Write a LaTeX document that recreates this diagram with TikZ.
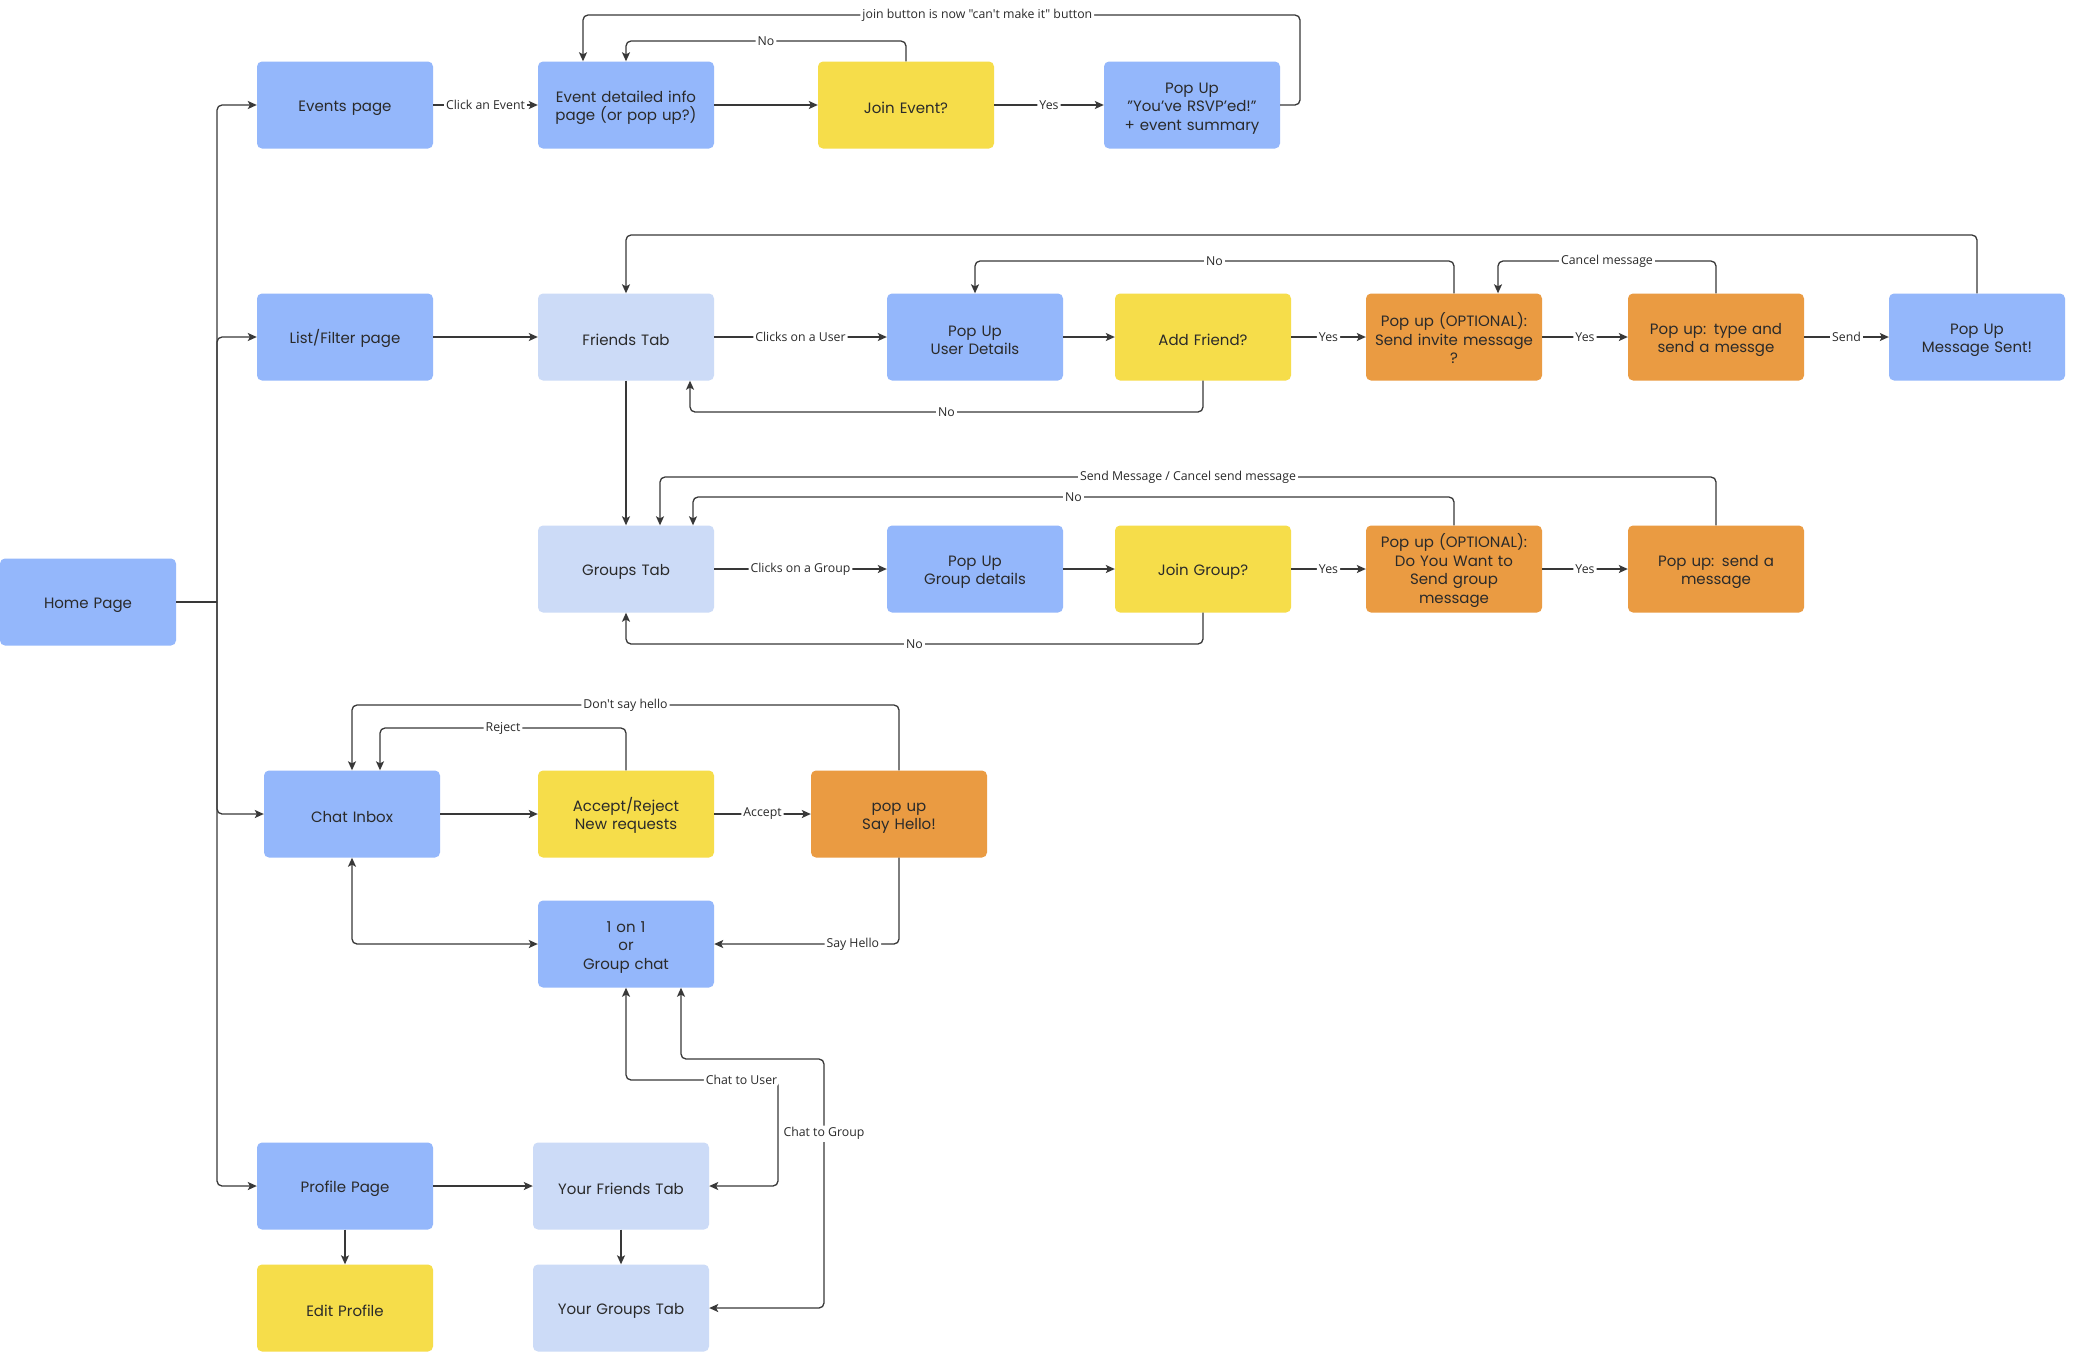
\documentclass[tikz,border=0pt]{standalone}
\usepackage{fontspec}
\setmainfont{Poppins}
\newfontfamily\lblfont{Open Sans}
\usetikzlibrary{arrows.meta}
\definecolor{cblue}{HTML}{94B7FB}
\definecolor{clight}{HTML}{CCDBF7}
\definecolor{cyellow}{HTML}{F6DD4A}
\definecolor{corange}{HTML}{EA9B42}
\definecolor{txt}{HTML}{2A2A2A}
\definecolor{ln}{HTML}{383838}
\begin{document}
\begin{tikzpicture}[x=1pt,y=-1pt,
  >={Stealth[length=9pt,width=8pt,inset=2pt]},
  box/.style={rounded corners=5pt, minimum width=176pt, minimum height=87pt,
    inner sep=2pt, align=center, text width=168pt,
    font=\fontsize{15}{18.5}\selectfont, text=txt,
    execute at begin node={\rule{0pt}{17pt}}},
  bluebox/.style={box, fill=cblue},
  lightbox/.style={box, fill=clight},
  yellowbox/.style={box, fill=cyellow},
  orangebox/.style={box, fill=corange},
  arr/.style={draw=ln, line width=1.3pt, ->, rounded corners=5pt},
  line/.style={draw=ln, line width=1.3pt, rounded corners=5pt},
  biarr/.style={draw=ln, line width=1.3pt, <->, rounded corners=5pt},
  lbl/.style={fill=white, inner sep=2pt, text=txt,
    font=\lblfont\fontsize{12.3}{14}\selectfont}]
\useasboundingbox (0,0) rectangle (2078,1358);
\fill[white] (0,0) rectangle (2078,1358);

% nodes
\node[bluebox] (home) at (88,602) {Home Page};
\node[bluebox] (events) at (345,105) {Events page};
\node[bluebox] (detail) at (626,105) {Event detailed info\\page (or pop up?)};
\node[yellowbox] (join) at (906,105) {Join Event?};
\node[bluebox] (rsvp) at (1192,105) {Pop Up\\"You’ve RSVP'ed!"\\+ event summary};

\node[bluebox] (list) at (345,337) {List/Filter page};
\node[lightbox] (friends) at (626,337) {Friends Tab};
\node[bluebox] (userdet) at (975,337) {Pop Up\\User Details};
\node[yellowbox] (addfr) at (1203,337) {Add Friend?};
\node[orangebox] (opta) at (1454,337) {Pop up (OPTIONAL):\\Send invite message\\?};
\node[orangebox] (typesend) at (1716,337) {Pop up: type and\\send a messge};
\node[bluebox] (sent) at (1977,337) {Pop Up\\Message Sent!};

\node[lightbox] (groups) at (626,569) {Groups Tab};
\node[bluebox] (grpdet) at (975,569) {Pop Up\\Group details};
\node[yellowbox] (joingr) at (1203,569) {Join Group?};
\node[orangebox] (optb) at (1454,569) {Pop up (OPTIONAL):\\Do You Want to\\Send group\\message};
\node[orangebox] (sendmsg) at (1716,569) {Pop up: send a\\message};

\node[bluebox] (chat) at (352,814) {Chat Inbox};
\node[yellowbox] (accrej) at (626,814) {Accept/Reject\\New requests};
\node[orangebox] (hello) at (899,814) {pop up\\Say Hello!};
\node[bluebox] (oneone) at (626,944) {1 on 1\\or\\Group chat};

\node[bluebox] (profile) at (345,1186) {Profile Page};
\node[yellowbox] (edit) at (345,1308) {Edit Profile};
\node[lightbox] (yfriends) at (621,1186) {Your Friends Tab};
\node[lightbox] (ygroups) at (621,1308) {Your Groups Tab};

% bus from home page
\coordinate (bus) at (217,602);
\draw[line] (home.east) -- (bus);
\draw[arr] (bus) |- (events.west);
\draw[arr] (bus) |- (list.west);
\draw[arr] (bus) |- (chat.west);
\draw[arr] (bus) |- (profile.west);

% events row
\draw[arr] (events.east) -- node[lbl]{Click an Event} (detail.west);
\draw[arr] (detail.east) -- (join.west);
\draw[arr] (join.east) -- node[lbl]{Yes} (rsvp.west);
\draw[arr] (rsvp.east) -- (1300,105) -- (1300,15) -- node[lbl,pos=0.45]{join button is now "can't make it" button} (583,15) -- ([xshift=-43]detail.north);
\draw[arr] (join.north) -- (906,41) -- node[lbl]{No} (626,41) -- (detail.north);

% friends row
\draw[arr] (list.east) -- (friends.west);
\draw[arr] (friends.east) -- node[lbl]{Clicks on a User} (userdet.west);
\draw[arr] (userdet.east) -- (addfr.west);
\draw[arr] (addfr.east) -- node[lbl]{Yes} (opta.west);
\draw[arr] (opta.east) -- node[lbl]{Yes} (typesend.west);
\draw[arr] (typesend.east) -- node[lbl]{Send} (sent.west);
\draw[arr] (sent.north) -- (1977,235) -- (626,235) -- (friends.north);
\draw[arr] (opta.north) -- (1454,261) -- node[lbl]{No} (975,261) -- (userdet.north);
\draw[arr] (typesend.north) -- (1716,261) -- node[lbl]{Cancel message} (1498,261) -- ([xshift=44]opta.north);
\draw[arr] (addfr.south) -- (1203,412) -- node[lbl]{No} (690,412) -- ([xshift=64]friends.south);
\draw[arr] (friends.south) -- (groups.north);

% groups row
\draw[arr] (groups.east) -- node[lbl]{Clicks on a Group} (grpdet.west);
\draw[arr] (grpdet.east) -- (joingr.west);
\draw[arr] (joingr.east) -- node[lbl]{Yes} (optb.west);
\draw[arr] (optb.east) -- node[lbl]{Yes} (sendmsg.west);
\draw[arr] (sendmsg.north) -- (1716,477) -- node[lbl]{Send Message / Cancel send message} (660,477) -- ([xshift=34]groups.north);
\draw[arr] (optb.north) -- (1454,497) -- node[lbl]{No} (693,497) -- ([xshift=67]groups.north);
\draw[arr] (joingr.south) -- (1203,644) -- node[lbl]{No} (626,644) -- (groups.south);

% chat row
\draw[arr] (chat.east) -- (accrej.west);
\draw[arr] (accrej.east) -- node[lbl]{Accept} (hello.west);
\draw[arr] (accrej.north) -- (626,728) -- node[lbl]{Reject} (380,728) -- ([xshift=28]chat.north);
\draw[arr] (hello.north) -- (899,705) -- node[lbl]{Don't say hello} (352,705) -- (chat.north);
\draw[arr] (hello.south) -- (899,944) -- node[lbl,pos=0.25]{Say Hello} (oneone.east);
\draw[biarr] (chat.south) |- (oneone.west);

% profile row
\draw[arr] (profile.east) -- (yfriends.west);
\draw[arr] (profile.south) -- (edit.north);
\draw[arr] (yfriends.south) -- (ygroups.north);
\draw[biarr] (oneone.south) -- (626,1080) -- node[lbl,pos=0.76]{Chat to User} (778,1080) -- (778,1186) -- (yfriends.east);
\draw[biarr] ([xshift=55]oneone.south) -- (681,1059) -- (824,1059) -- node[lbl,pos=0.3]{Chat to Group} (824,1308) -- (ygroups.east);
\end{tikzpicture}
\end{document}
